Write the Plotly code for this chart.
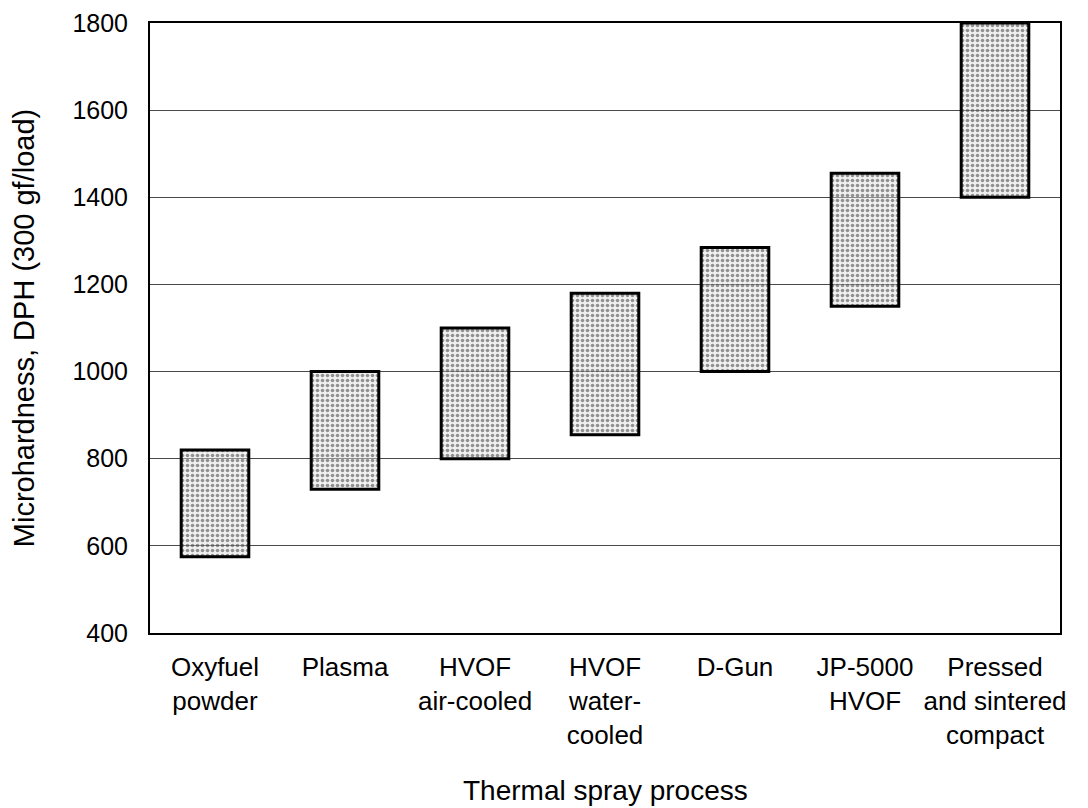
import plotly.graph_objects as go

processes = ["Oxyfuel<br>powder", "Plasma", "HVOF<br>air-cooled", "HVOF<br>water-<br>cooled",
             "D-Gun", "JP-5000<br>HVOF", "Pressed<br>and sintered<br>compact"]
hardness_low = [575, 730, 800, 855, 1000, 1150, 1400]
hardness_high = [820, 1000, 1100, 1180, 1285, 1455, 1800]
y_ticks = [400, 600, 800, 1000, 1200, 1400, 1600, 1800]

span = [h - l for h, l in zip(hardness_high, hardness_low)]

FONT = "Liberation Sans, Arial, sans-serif"

fig = go.Figure()
fig.add_trace(go.Bar(
    x=processes,
    y=span,
    base=hardness_low,
    width=0.52,
    marker=dict(
        color="rgba(220,220,220,0.5)",
        line=dict(color="black", width=3),
        pattern=dict(shape=".", fgcolor="#333333", bgcolor="rgba(220,220,220,0.45)",
                     size=5, solidity=0.42, fillmode="overlay"),
    ),
    hoverinfo="skip",
    showlegend=False,
))

fig.update_layout(
    width=1072, height=800,
    margin=dict(l=142, r=20, t=15, b=175),
    paper_bgcolor="white", plot_bgcolor="white",
    font=dict(family=FONT, color="black", size=25),
    bargap=0.48,
    annotations=[dict(
        text="Thermal spray process", xref="paper", yref="paper",
        x=0.5, y=-0.258, xanchor="center", yanchor="middle",
        showarrow=False, font=dict(size=28),
    )],
)
fig.update_xaxes(
    type="category", automargin=False,
    showline=True, linecolor="black", linewidth=2, mirror=True,
    showgrid=False, ticks="", ticklen=0,
    tickfont=dict(size=26),
    ticklabelstandoff=10,
)
fig.update_yaxes(
    range=[400, 1800], automargin=False,
    tickvals=y_ticks,
    showline=True, linecolor="black", linewidth=2, mirror=True,
    showgrid=True, gridcolor="#4a4a4a", gridwidth=1,
    zeroline=False, ticks="",
    tickfont=dict(size=25),
    ticklabelstandoff=15,
    title=dict(text="Microhardness, DPH (300 gf/load)", font=dict(size=29), standoff=31),
)

fig.write_html("out.html")
